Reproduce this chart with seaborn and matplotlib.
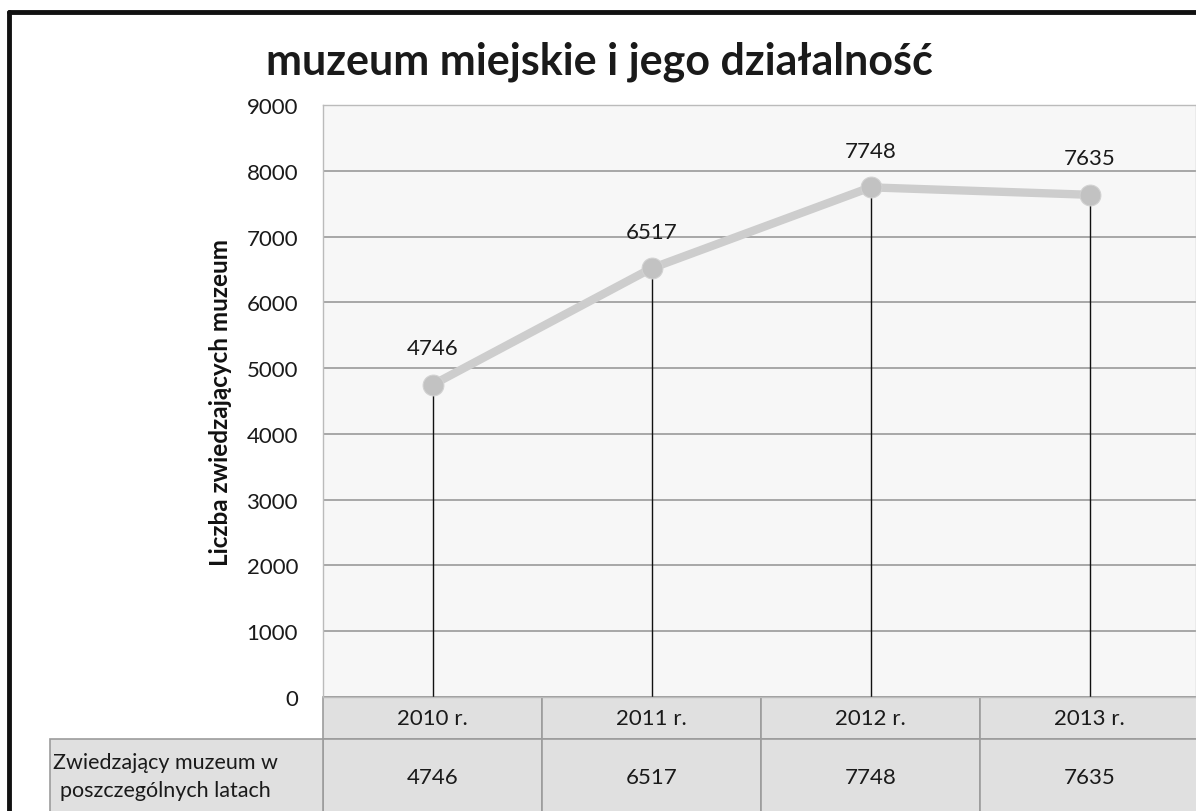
import matplotlib
matplotlib.use("Agg")
import matplotlib.pyplot as plt
import matplotlib.transforms as mtransforms
from matplotlib.patches import Rectangle
from matplotlib.lines import Line2D
import seaborn as sns
import pandas as pd

# ---- data ----
years = ["2010 r.", "2011 r.", "2012 r.", "2013 r."]
visitors = [4746, 6517, 7748, 7635]
title = "muzeum miejskie i jego działalność"
ylabel = "Liczba zwiedzających muzeum"
row_label = "Zwiedzający muzeum w\nposzczególnych latach"
yticks = [0, 1000, 2000, 3000, 4000, 5000, 6000, 7000, 8000, 9000]

sns.set_theme(style="white")
plt.rcParams["font.family"] = ["Lato", "DejaVu Sans"]

W, H = 1196, 812
fig = plt.figure(figsize=(W / 100, H / 100), dpi=100)
fig.patch.set_facecolor("white")

AX_L, AX_B = 323, 698
ax = fig.add_axes([AX_L / W, 1 - AX_B / H, (W - AX_L) / W, (AX_B - 106) / H])
ax.set_facecolor("#f7f7f7")

df = pd.DataFrame({"x": range(len(years)), "y": visitors})
ax.vlines(df["x"], 0, df["y"], color="#111111", lw=1.0, zorder=2)
sns.lineplot(data=df, x="x", y="y", ax=ax, color="#cdcdcd", lw=6,
             marker="o", markersize=15, markerfacecolor="#c2c2c2",
             markeredgecolor="#d2d2d2", zorder=3)

for xi, v in zip(df["x"], df["y"]):
    ax.annotate(f"{v}", (xi, v), xytext=(0, 19), textcoords="offset points",
                ha="center", va="bottom", fontsize=16, color="#1a1a1a")

ax.set_xlim(-0.5, -0.5 + (W - AX_L) / 219)
ax.set_ylim(0, 9000)
ax.set_yticks(yticks)
ax.set_yticklabels([str(t) for t in yticks], fontsize=16, color="#1a1a1a")
ax.set_xticks([])
ax.set_xlabel("")
ax.set_ylabel(ylabel, fontsize=17.5, fontweight="bold", color="#111111", labelpad=10)
ax.tick_params(axis="y", length=0, pad=18)
ax.yaxis.grid(True, color="#9a9a9a", lw=1.2)
for s in ax.spines.values():
    s.set_color("#bbbbbb")
    s.set_linewidth(1.0)

fig.text(599 / W, 1 - 74 / H, title, ha="center", va="baseline",
         fontsize=31, fontweight="bold", color="#1a1a1a")

# ---- data table under the plot ----
trans = mtransforms.blended_transform_factory(ax.transData, ax.transAxes)
ah = AX_B - 106
r1_top, r1_bot = 0.0, -42 / ah
r2_bot = -130 / ah
cell_fc = "#e0e0e0"
edge = "#9c9c9c"
for i, (yr, v) in enumerate(zip(years, visitors)):
    ax.add_patch(Rectangle((i - 0.5, r1_bot), 1, r1_top - r1_bot, transform=trans,
                           facecolor=cell_fc, edgecolor=edge, lw=1.2, clip_on=False))
    ax.add_patch(Rectangle((i - 0.5, r2_bot), 1, r1_bot - r2_bot, transform=trans,
                           facecolor=cell_fc, edgecolor=edge, lw=1.2, clip_on=False))
    ax.text(i, -21 / ah, yr, transform=trans, ha="center",
            va="center", fontsize=16, color="#1a1a1a")
    ax.text(i, -80 / ah, f"{v}", transform=trans,
            ha="center", va="center", fontsize=16, color="#1a1a1a")

hdr_left = -0.5 - (AX_L - 50) / 219
ax.add_patch(Rectangle((hdr_left, r2_bot), -0.5 - hdr_left, r1_bot - r2_bot,
                       transform=trans, facecolor=cell_fc, edgecolor=edge,
                       lw=1.2, clip_on=False))
hdr_center = -0.5 - (AX_L - 165) / 219
ax.text(hdr_center, -79 / ah, row_label,
        transform=trans, ha="center", va="center", fontsize=15.5,
        color="#1a1a1a", linespacing=1.55)

# ---- outer frame (scan border) ----
fig.add_artist(Line2D([9 / W, 9 / W], [0, 1 - 13 / H], color="#111111", lw=3.5))
fig.add_artist(Line2D([9 / W, 1], [1 - 13 / H, 1 - 13 / H], color="#111111", lw=3.5))

fig.savefig("out.png", dpi=100)
